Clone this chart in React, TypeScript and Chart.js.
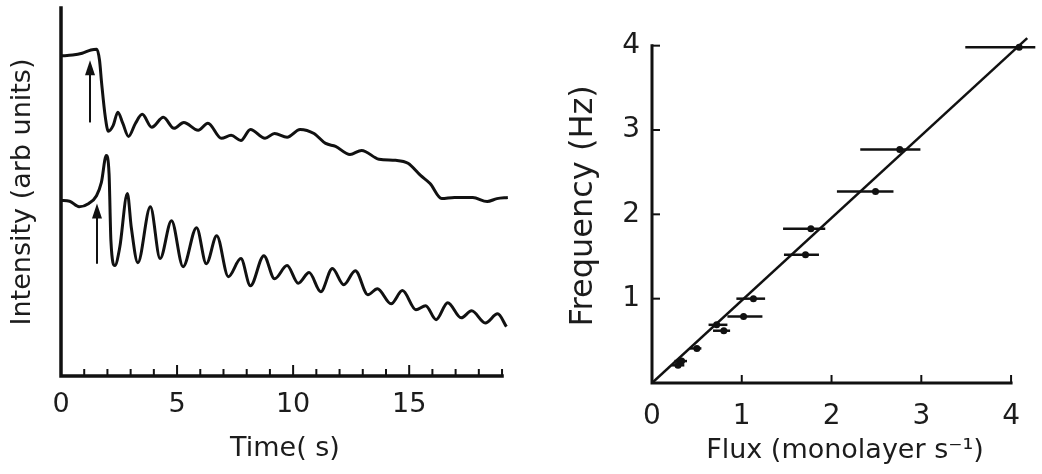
import React, { useEffect, useRef } from "react";
import { Chart, registerables } from "chart.js";

Chart.register(...registerables);

// ---------- Left panel: RHEED intensity traces ----------
const upperTime = [0, 0.5, 0.91, 1.29, 1.54, 1.66, 1.75, 1.91, 2.04, 2.25, 2.45, 2.66, 2.91, 3.21, 3.5, 3.91, 4.41, 4.87, 5.29, 5.91, 6.33, 6.91, 7.33, 7.75, 8.16, 8.79, 9.2, 9.74, 10.3, 10.9, 11.4, 11.83, 12.45, 12.95, 13.7, 14.41, 14.95, 15.49, 15.9, 16.4, 16.95, 17.74, 18.36, 18.78, 19.25];
const upperIntensity = [87.0, 87.2, 87.7, 88.6, 88.8, 85.8, 79.6, 70.3, 66.5, 68.1, 71.7, 68.7, 65.1, 68.7, 71.1, 67.6, 70.3, 67.3, 68.9, 66.8, 68.7, 64.6, 65.4, 64.0, 67.0, 64.6, 65.9, 64.9, 67.0, 65.9, 63.2, 62.4, 60.2, 61.3, 58.9, 58.6, 57.8, 54.5, 52.3, 48.2, 48.5, 48.5, 47.4, 48.2, 48.5];

const lowerTime = [0, 0.37, 0.78, 1.2, 1.53, 1.74, 1.95, 2.07, 2.15, 2.32, 2.53, 2.86, 3.03, 3.31, 3.85, 4.27, 4.76, 5.26, 5.84, 6.26, 6.71, 7.21, 7.75, 8.16, 8.74, 9.2, 9.74, 10.22, 10.69, 11.19, 11.69, 12.18, 12.68, 13.22, 13.63, 14.22, 14.71, 15.29, 15.71, 16.16, 16.66, 17.24, 17.69, 18.28, 18.81, 19.19];
const lowerIntensity = [47.7, 47.5, 46.0, 46.9, 49.0, 52.6, 59.9, 55.0, 36.8, 30.0, 34.9, 49.6, 40.3, 30.8, 46.0, 31.9, 42.2, 29.7, 40.3, 30.5, 38.1, 27.0, 31.9, 24.5, 32.7, 26.4, 30.0, 25.2, 28.1, 22.9, 29.2, 24.8, 28.6, 22.1, 23.7, 19.6, 23.2, 18.0, 19.1, 15.3, 19.9, 15.8, 17.7, 14.4, 16.9, 13.4];

const arrowTime = [1.25, 1.55];
const arrowFrom = [68.9, 30.5];
const arrowTo = [85.8, 46.9];

const timeTicks = [0, 1, 2, 3, 4, 5, 6, 7, 8, 9, 10, 11, 12, 13, 14, 15, 16, 17, 18, 19];
const timeLabels = [0, 5, 10, 15];

// ---------- Right panel: frequency vs flux ----------
const fluxX = [0.29, 0.33, 0.5, 0.72, 0.8, 1.02, 1.13, 1.71, 1.77, 2.49, 2.76, 4.09];
const freqY = [0.21, 0.26, 0.41, 0.69, 0.62, 0.79, 1.0, 1.52, 1.83, 2.27, 2.77, 3.98];
const fluxLo = [0.22, 0.25, 0.42, 0.63, 0.68, 0.84, 0.94, 1.47, 1.46, 2.06, 2.32, 3.49];
const fluxHi = [0.36, 0.39, 0.55, 0.84, 0.87, 1.23, 1.26, 1.86, 1.93, 2.69, 2.99, 4.27];
const fitFlux = [0, 4.18];
const fitFreq = [0, 4.09];
const fluxTicks = [0, 1, 2, 3, 4];
const freqTicks = [1, 2, 3, 4];

const INK = "#111111";
const TEXT = "#1c1c1c";
const FONT = "DejaVu Sans";

function LeftChart() {
  const ref = useRef<HTMLCanvasElement | null>(null);
  useEffect(() => {
    if (!ref.current) return;
    const decor = {
      id: "leftDecor",
      afterDatasetsDraw(chart: any) {
        const { ctx } = chart;
        const xs = chart.scales.x;
        const ys = chart.scales.y;
        const x0 = xs.getPixelForValue(0);
        const y0 = ys.getPixelForValue(0);
        ctx.save();
        ctx.strokeStyle = INK;
        ctx.fillStyle = INK;
        ctx.lineCap = "square";
        // axes
        ctx.lineWidth = 3.5;
        ctx.beginPath();
        ctx.moveTo(x0, ys.getPixelForValue(100));
        ctx.lineTo(x0, y0);
        ctx.lineTo(xs.getPixelForValue(timeTicks[timeTicks.length - 1]), y0);
        ctx.stroke();
        // ticks
        ctx.lineWidth = 2;
        ctx.lineCap = "butt";
        timeTicks.forEach((v) => {
          if (v === 0) return;
          const px = xs.getPixelForValue(v);
          const len = v % 5 === 0 ? 11 : 7;
          ctx.beginPath();
          ctx.moveTo(px, y0);
          ctx.lineTo(px, y0 - len);
          ctx.stroke();
        });
        // arrows
        arrowTime.forEach((t, i) => {
          const px = xs.getPixelForValue(t);
          const yb = ys.getPixelForValue(arrowFrom[i]);
          const yt = ys.getPixelForValue(arrowTo[i]);
          ctx.lineWidth = 2;
          ctx.beginPath();
          ctx.moveTo(px, yb);
          ctx.lineTo(px, yt + 10);
          ctx.stroke();
          ctx.beginPath();
          ctx.moveTo(px, yt);
          ctx.lineTo(px - 5, yt + 15);
          ctx.lineTo(px + 5, yt + 15);
          ctx.closePath();
          ctx.fill();
        });
        ctx.restore();
      },
    };
    const chart = new Chart(ref.current, {
      type: "scatter",
      data: {
        datasets: [
          {
            data: upperTime.map((t, i) => ({ x: t, y: upperIntensity[i] })),
            showLine: true,
            pointRadius: 0,
            borderColor: INK,
            borderWidth: 3,
            cubicInterpolationMode: "monotone",
          },
          {
            data: lowerTime.map((t, i) => ({ x: t, y: lowerIntensity[i] })),
            showLine: true,
            pointRadius: 0,
            borderColor: INK,
            borderWidth: 3,
            cubicInterpolationMode: "monotone",
          },
        ],
      },
      options: {
        animation: false,
        responsive: false,
        events: [],
        layout: { padding: { top: 8, right: 31, left: 0, bottom: 0 } },
        plugins: { legend: { display: false }, tooltip: { enabled: false } },
        scales: {
          x: {
            type: "linear",
            min: 0,
            max: 19.3,
            afterBuildTicks: (s: any) => {
              s.ticks = timeTicks.map((v) => ({ value: v }));
            },
            afterFit: (s: any) => {
              s.height = 98;
            },
            grid: { display: false, drawTicks: false },
            border: { display: false },
            ticks: {
              autoSkip: false,
              maxRotation: 0,
              padding: 13,
              color: TEXT,
              font: { family: FONT, size: 27 },
              callback: (v: any) => (timeLabels.includes(Number(v)) ? String(v) : ""),
            },
            title: {
              display: true,
              text: "Time( s)",
              color: TEXT,
              font: { family: FONT, size: 27 },
              padding: { top: 0, bottom: 9 },
            },
          },
          y: {
            type: "linear",
            min: 0,
            max: 100,
            afterFit: (s: any) => {
              s.width = 61;
            },
            grid: { display: false, drawTicks: false },
            border: { display: false },
            ticks: { display: false },
            title: {
              display: true,
              text: "Intensity (arb units)",
              color: TEXT,
              font: { family: FONT, size: 27 },
              padding: { top: 7, bottom: 0 },
            },
          },
        },
      },
      plugins: [decor],
    } as any);
    return () => chart.destroy();
  }, []);
  return (
    <canvas
      ref={ref}
      width={540}
      height={474}
      style={{ position: "absolute", left: 0, top: 0, width: 540, height: 474 }}
    />
  );
}

function RightChart() {
  const ref = useRef<HTMLCanvasElement | null>(null);
  useEffect(() => {
    if (!ref.current) return;
    const decor = {
      id: "rightDecor",
      beforeDatasetsDraw(chart: any) {
        const { ctx } = chart;
        const xs = chart.scales.x;
        const ys = chart.scales.y;
        ctx.save();
        ctx.strokeStyle = INK;
        ctx.lineWidth = 2.5;
        fluxX.forEach((_, i) => {
          const py = ys.getPixelForValue(freqY[i]);
          ctx.beginPath();
          ctx.moveTo(xs.getPixelForValue(fluxLo[i]), py);
          ctx.lineTo(xs.getPixelForValue(fluxHi[i]), py);
          ctx.stroke();
        });
        ctx.restore();
      },
      afterDatasetsDraw(chart: any) {
        const { ctx } = chart;
        const xs = chart.scales.x;
        const ys = chart.scales.y;
        const x0 = xs.getPixelForValue(0);
        const y0 = ys.getPixelForValue(0);
        const xEnd = xs.getPixelForValue(fluxTicks[fluxTicks.length - 1]);
        const yEnd = ys.getPixelForValue(freqTicks[freqTicks.length - 1]);
        ctx.save();
        ctx.strokeStyle = INK;
        ctx.lineWidth = 3;
        ctx.lineCap = "square";
        ctx.beginPath();
        ctx.moveTo(x0, yEnd);
        ctx.lineTo(x0, y0);
        ctx.lineTo(xEnd, y0);
        ctx.stroke();
        ctx.lineWidth = 2;
        ctx.lineCap = "butt";
        fluxTicks.forEach((v) => {
          if (v === 0) return;
          const px = xs.getPixelForValue(v);
          ctx.beginPath();
          ctx.moveTo(px, y0);
          ctx.lineTo(px, y0 - 8);
          ctx.stroke();
        });
        freqTicks.forEach((v) => {
          const py = ys.getPixelForValue(v);
          ctx.beginPath();
          ctx.moveTo(x0, py);
          ctx.lineTo(x0 + 8, py);
          ctx.stroke();
        });
        ctx.restore();
      },
    };
    const chart = new Chart(ref.current, {
      type: "scatter",
      data: {
        datasets: [
          {
            data: fitFlux.map((x, i) => ({ x, y: fitFreq[i] })),
            showLine: true,
            pointRadius: 0,
            borderColor: INK,
            borderWidth: 2.5,
          },
          {
            data: fluxX.map((x, i) => ({ x, y: freqY[i] })),
            showLine: false,
            pointRadius: 3.5,
            pointBackgroundColor: INK,
            pointBorderColor: INK,
            pointBorderWidth: 0,
          },
        ],
      },
      options: {
        animation: false,
        responsive: false,
        events: [],
        layout: { padding: { top: 2, right: 0, left: 0, bottom: 0 } },
        plugins: { legend: { display: false }, tooltip: { enabled: false } },
        scales: {
          x: {
            type: "linear",
            min: 0,
            max: 4.3,
            afterBuildTicks: (s: any) => {
              s.ticks = fluxTicks.map((v) => ({ value: v }));
            },
            afterFit: (s: any) => {
              s.height = 91;
            },
            grid: { display: false, drawTicks: false },
            border: { display: false },
            ticks: {
              autoSkip: false,
              maxRotation: 0,
              padding: 17,
              color: TEXT,
              font: { family: FONT, size: 28 },
              callback: (v: any) => String(v),
            },
            title: {
              display: true,
              text: "Flux (monolayer s\u207B\u00B9)",
              color: TEXT,
              font: { family: FONT, size: 27 },
              padding: { top: 0, bottom: 7 },
            },
          },
          y: {
            type: "linear",
            min: 0,
            max: 4.2,
            afterBuildTicks: (s: any) => {
              s.ticks = freqTicks.map((v) => ({ value: v }));
            },
            afterFit: (s: any) => {
              s.width = 112;
            },
            grid: { display: false, drawTicks: false },
            border: { display: false },
            ticks: {
              autoSkip: false,
              padding: 12,
              color: TEXT,
              font: { family: FONT, size: 28 },
              callback: (v: any) => String(v),
            },
            title: {
              display: true,
              text: "Frequency (Hz)",
              color: TEXT,
              font: { family: FONT, size: 32 },
              padding: { top: 24, bottom: 0 },
            },
          },
        },
      },
      plugins: [decor],
    } as any);
    return () => chart.destroy();
  }, []);
  return (
    <canvas
      ref={ref}
      width={502}
      height={474}
      style={{ position: "absolute", left: 540, top: 0, width: 502, height: 474 }}
    />
  );
}

export default function App() {
  return (
    <div
      style={{
        position: "absolute",
        left: 0,
        top: 0,
        width: 1042,
        height: 474,
        background: "#ffffff",
        overflow: "hidden",
      }}
    >
      <LeftChart />
      <RightChart />
    </div>
  );
}
